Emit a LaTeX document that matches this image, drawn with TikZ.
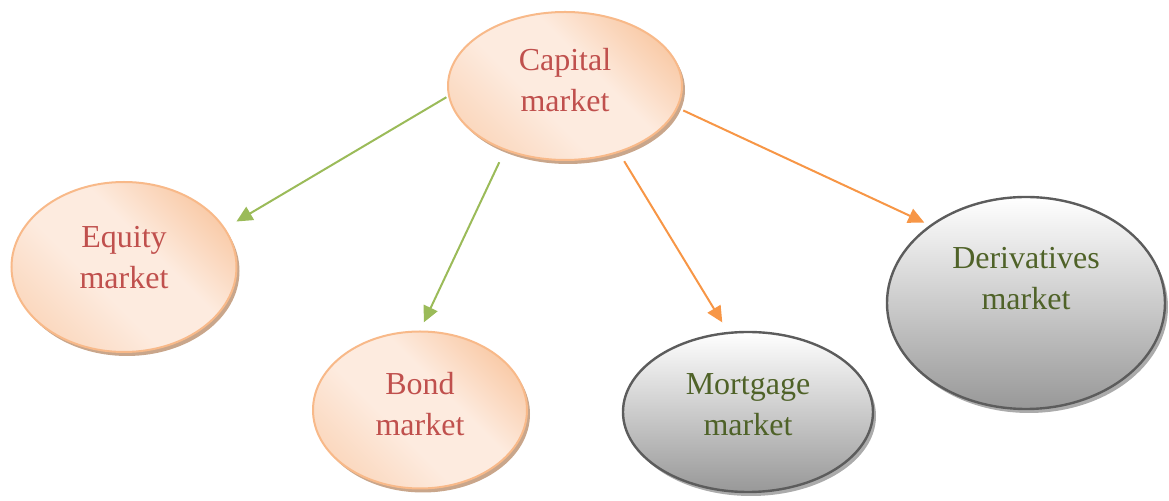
\documentclass[tikz,border=0pt]{standalone}
\usepackage{fontspec}
\setmainfont{Liberation Serif}
\usetikzlibrary{arrows.meta,shadows,shapes.geometric}
\definecolor{peachdark}{HTML}{F8C39B}
\definecolor{peachlight}{HTML}{FDEBDF}
\definecolor{peachmid}{HTML}{FAD3B6}
\definecolor{peachborder}{HTML}{F8B989}
\definecolor{peachshadow}{HTML}{C9A68B}
\definecolor{grayborder}{HTML}{5C5C5C}
\definecolor{graybottom}{HTML}{989898}
\definecolor{grayshadow}{HTML}{ABABAB}
\definecolor{txtred}{HTML}{C0504D}
\definecolor{txtgreen}{HTML}{4F6228}
\definecolor{arrgreen}{HTML}{9BBB59}
\definecolor{arrorange}{HTML}{F79646}
\pgfdeclareverticalshading{peachsh}{100bp}{color(0bp)=(peachmid); color(20bp)=(peachmid); color(42bp)=(peachlight); color(58bp)=(peachlight); color(80bp)=(peachdark); color(100bp)=(peachdark)}
\tikzset{
  bubble/.style={ellipse, inner sep=0pt, align=center,
    font=\fontsize{16pt}{20.5pt}\selectfont},
  peachnode/.style={bubble, draw=peachborder, line width=1pt,
    shade, shading=peachsh, shading angle=-45, text=txtred,
    drop shadow={shadow xshift=1.5pt, shadow yshift=-2pt, fill=peachshadow, opacity=1}},
  graynode/.style={bubble, draw=grayborder, line width=1.2pt,
    top color=white, bottom color=graybottom, text=txtgreen,
    drop shadow={shadow xshift=1.5pt, shadow yshift=-2pt, fill=grayshadow, opacity=1}},
  conn/.style={line width=1pt, -{Triangle[length=8pt,width=7.5pt]}},
  gconn/.style={conn, draw=arrgreen, fill=arrgreen},
  oconn/.style={conn, draw=arrorange, fill=arrorange}
}
\begin{document}
\begin{tikzpicture}[x=0.5pt,y=-0.5pt]
\useasboundingbox (0,0) rectangle (1169,501);
\node[peachnode, minimum width=117pt, minimum height=74pt, text depth=6pt] (cap) at (565,86) {Capital\\market};
\node[peachnode, minimum width=112.5pt, minimum height=85pt, text depth=10pt] (eq) at (124,267) {Equity\\market};
\node[peachnode, minimum width=107pt, minimum height=78.5pt, text depth=6pt] (bond) at (420,410) {Bond\\market};
\node[graynode, minimum width=125pt, minimum height=80pt, text depth=7pt] (mort) at (748,412) {Mortgage\\market};
\node[graynode, minimum width=139pt, minimum height=106pt, text depth=25pt] (der) at (1026,303) {Derivatives\\market};
\draw[gconn, shorten <=1pt, shorten >=6.5pt] (cap.185) -- (eq.21);
\draw[gconn, shorten <=6.5pt, shorten >=4.5pt] (cap.227) -- (bond.north);
\draw[oconn, shorten <=5pt, shorten >=5.5pt] (cap.309.5) -- (mort.104.3);
\draw[oconn, shorten <=3pt, shorten >=3pt] (cap.349.4) -- (der.141.6);
\end{tikzpicture}
\end{document}
